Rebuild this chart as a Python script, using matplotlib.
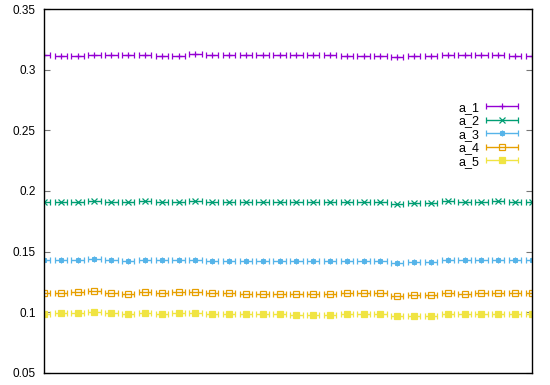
import numpy as np
import matplotlib
matplotlib.use('Agg')
import matplotlib.pyplot as plt
from matplotlib.container import ErrorbarContainer
from matplotlib.legend_handler import HandlerErrorbar

plt.rcParams['font.family'] = ['Liberation Sans', 'DejaVu Sans']

x = np.arange(30)

a_1 = [0.3123, 0.3117, 0.3117, 0.3125, 0.3120, 0.3123, 0.3123, 0.3117, 0.3117, 0.3131,
       0.3125, 0.3123, 0.3123, 0.3120, 0.3120, 0.3120, 0.3125, 0.3120, 0.3117, 0.3117,
       0.3117, 0.3103, 0.3112, 0.3112, 0.3123, 0.3120, 0.3123, 0.3125, 0.3117, 0.3114]
a_2 = [0.1909, 0.1906, 0.1912, 0.1920, 0.1912, 0.1909, 0.1914, 0.1912, 0.1909, 0.1917,
       0.1912, 0.1912, 0.1906, 0.1906, 0.1909, 0.1909, 0.1909, 0.1906, 0.1906, 0.1906,
       0.1906, 0.1892, 0.1898, 0.1900, 0.1914, 0.1909, 0.1912, 0.1914, 0.1909, 0.1906]
a_3 = [0.1427, 0.1427, 0.1430, 0.1438, 0.1430, 0.1424, 0.1433, 0.1427, 0.1433, 0.1430,
       0.1424, 0.1424, 0.1424, 0.1422, 0.1424, 0.1424, 0.1422, 0.1424, 0.1424, 0.1424,
       0.1424, 0.1408, 0.1413, 0.1416, 0.1427, 0.1427, 0.1427, 0.1427, 0.1427, 0.1427]
a_4 = [0.1155, 0.1155, 0.1163, 0.1174, 0.1157, 0.1152, 0.1168, 0.1157, 0.1163, 0.1163,
       0.1157, 0.1157, 0.1152, 0.1152, 0.1152, 0.1152, 0.1149, 0.1152, 0.1155, 0.1155,
       0.1155, 0.1135, 0.1138, 0.1141, 0.1155, 0.1152, 0.1155, 0.1160, 0.1155, 0.1155]
a_5 = [0.0987, 0.0989, 0.0995, 0.1003, 0.0992, 0.0981, 0.0995, 0.0984, 0.0989, 0.0989,
       0.0987, 0.0984, 0.0981, 0.0981, 0.0981, 0.0978, 0.0978, 0.0978, 0.0981, 0.0981,
       0.0981, 0.0967, 0.0970, 0.0970, 0.0981, 0.0981, 0.0981, 0.0987, 0.0987, 0.0984]

series = [a_1, a_2, a_3, a_4, a_5]
names = ['a_1', 'a_2', 'a_3', 'a_4', 'a_5']
colors = ['#9400d3', '#009e73', '#56b4e9', '#e69f00', '#f0e442']
markers = ['+', 'x', (8, 2, 0), 's', 's']
filled = [True, True, True, False, True]

fig = plt.figure(figsize=(5.5, 3.85), dpi=100)
ax = fig.add_axes([0.08, 0.032, 0.887, 0.944])

for y, name, c, m, f in zip(series, names, colors, markers, filled):
    ax.errorbar(x, y, xerr=0.37, marker=m, linestyle='none', color=c, ecolor=c,
                elinewidth=1.0, capsize=2, capthick=0.8, markersize=4,
                markeredgewidth=0.9, mfc=c if f else 'none', label=name)

ax.set_xlim(0, 29)
ax.set_ylim(0.05, 0.35)
ax.set_yticks([0.05, 0.1, 0.15, 0.2, 0.25, 0.3, 0.35])
ax.set_yticklabels(['0.05', '0.1', '0.15', '0.2', '0.25', '0.3', '0.35'])
ax.set_xticks([])
ax.tick_params(axis='y', direction='in', right=True, length=4, width=0.8,
               labelsize=8.5, color='#777777', pad=6)
for s in ax.spines.values():
    s.set_linewidth(1.0)

ax.legend(loc='upper right', bbox_to_anchor=(0.99, 0.77), frameon=False,
          markerfirst=False, fontsize=9, handlelength=2.6, handletextpad=0.5,
          labelspacing=0.12, borderpad=0.2, numpoints=1,
          handler_map={ErrorbarContainer: HandlerErrorbar(xerr_size=1.3, numpoints=1)})

fig.savefig('out.png', dpi=100)
